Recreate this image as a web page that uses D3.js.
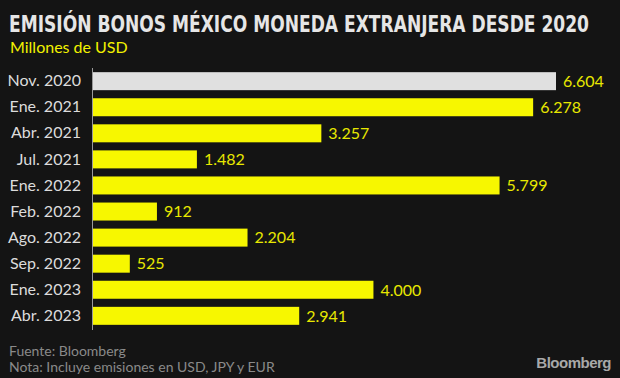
<!DOCTYPE html>
<html>
<head>
<meta charset="utf-8">
<script src="https://cdn.jsdelivr.net/npm/d3@7"></script>
<style>
  body { margin: 0; background: #141414; }
  svg { display: block; }
</style>
</head>
<body>
<svg width="620" height="378"></svg>
<script>
var categories = ["Nov. 2020", "Ene. 2021", "Abr. 2021", "Jul. 2021", "Ene. 2022",
                  "Feb. 2022", "Ago. 2022", "Sep. 2022", "Ene. 2023", "Abr. 2023"];
var values = [6604, 6278, 3257, 1482, 5799, 912, 2204, 525, 4000, 2941];
var highlight = ["Nov. 2020"];

var svg = d3.select("svg"),
    width = +svg.attr("width"),
    height = +svg.attr("height");

svg.append("rect").attr("width", width).attr("height", height).attr("fill", "#141414");

var fmt = d3.formatLocale({ decimal: ",", thousands: ".", grouping: [3], currency: ["", ""] }).format(",d");

var data = categories.map(function(c, i) { return { cat: c, val: values[i] }; });

var x = d3.scaleLinear().domain([0, 6604]).range([93, 556]);
var y = d3.scaleBand().domain(categories).range([68, 329]).paddingInner(0.31).paddingOuter(0.16);

// title - shrink font until it fits, then stretch a bit to get taller caps
var title = svg.append("text")
    .attr("transform", "translate(9,32) scale(1,1.2)")
    .attr("fill", "#e6e6e6")
    .style("font-family", "'DejaVu Sans Condensed', 'DejaVu Sans'")
    .style("font-weight", "bold")
    .style("font-size", "22px")
    .text("EMISIÓN BONOS MÉXICO MONEDA EXTRANJERA DESDE 2020");
var fs = 22;
while (title.node().getComputedTextLength() > 592 && fs > 12) {
  fs -= 0.5;
  title.style("font-size", fs + "px");
}

svg.append("text")
    .attr("x", 10).attr("y", 53)
    .attr("fill", "#f2f200")
    .style("font-family", "Lato")
    .style("font-size", "16px")
    .text("Millones de USD");

// bars
svg.append("g").selectAll("rect")
    .data(data)
    .enter().append("rect")
    .attr("x", x(0))
    .attr("y", function(d) { return y(d.cat); })
    .attr("width", function(d) { return x(d.val) - x(0); })
    .attr("height", y.bandwidth())
    .attr("fill", function(d) { return highlight.indexOf(d.cat) >= 0 ? "#e0e0e0" : "#f7f700"; });

// value labels
svg.append("g").selectAll("text")
    .data(data)
    .enter().append("text")
    .attr("x", function(d) { return x(d.val) + 7; })
    .attr("y", function(d) { return y(d.cat) + y.bandwidth() / 2; })
    .attr("dy", "0.36em")
    .attr("fill", "#e8e800")
    .style("font-family", "Lato")
    .style("font-size", "16px")
    .text(function(d) { return fmt(d.val); });

// y axis
var yAxis = svg.append("g")
    .attr("transform", "translate(" + (x(0) - 1) + ",0)")
    .call(d3.axisLeft(y).tickSize(0).tickPadding(11));
yAxis.select(".domain").attr("stroke", "#9a9a9a").attr("stroke-width", 1)
    .attr("d", "M0.5,68V330");
yAxis.selectAll("text")
    .attr("fill", "#dcdcdc")
    .style("font-family", "Lato")
    .style("font-size", "16px");

// footer
svg.append("text")
    .attr("x", 9).attr("y", 356)
    .attr("fill", "#8a8a8a")
    .style("font-family", "Lato")
    .style("font-size", "14px")
    .text("Fuente: Bloomberg");
svg.append("text")
    .attr("x", 9).attr("y", 372)
    .attr("fill", "#8a8a8a")
    .style("font-family", "Lato")
    .style("font-size", "14px")
    .text("Nota: Incluye emisiones en USD, JPY y EUR");
svg.append("text")
    .attr("x", 611).attr("y", 368)
    .attr("text-anchor", "end")
    .attr("fill", "#a8a8a8")
    .style("font-family", "'Liberation Sans', Arial")
    .style("font-weight", "bold")
    .style("font-size", "15px")
    .style("letter-spacing", "-0.5px")
    .text("Bloomberg");
</script>
</body>
</html>
